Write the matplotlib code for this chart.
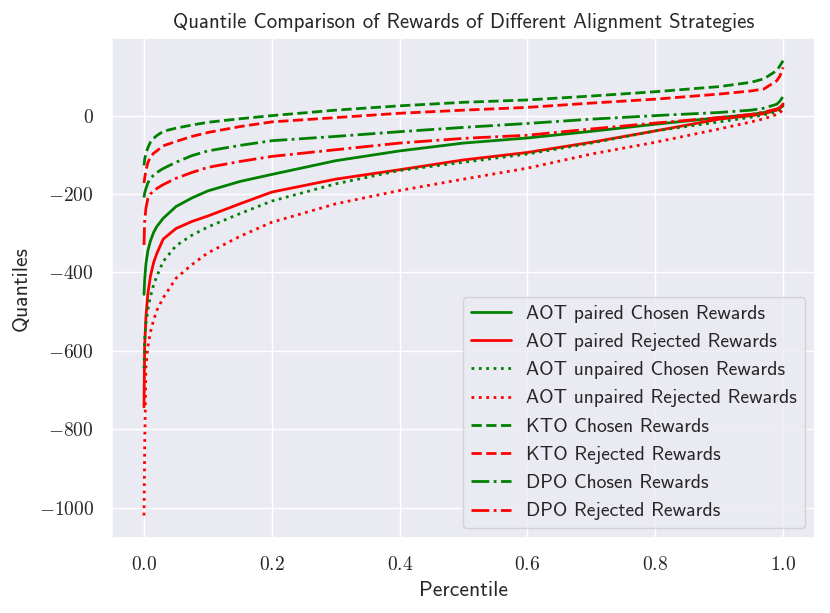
import matplotlib
matplotlib.use("Agg")
import matplotlib.pyplot as plt
import seaborn as sns
from matplotlib.ticker import FuncFormatter

# percentile grid shared by all curves
percentiles = [0, 0.001, 0.003, 0.006, 0.01, 0.015, 0.02, 0.03, 0.05, 0.075, 0.1,
               0.15, 0.2, 0.3, 0.4, 0.5, 0.6, 0.7, 0.8, 0.9, 0.95, 0.97, 0.99, 0.995, 1.0]

aot_paired_chosen = [-456, -420, -378, -345, -320, -298, -283, -262, -232, -210, -192,
                     -168, -150, -115, -90, -70, -57, -40, -22, -5, 3, 8, 15, 19, 25]
aot_paired_rejected = [-743, -590, -512, -455, -410, -375, -352, -315, -288, -270, -256,
                       -225, -195, -162, -138, -113, -94, -68, -39, -9, 0, 5, 14, 20, 30]
aot_unpaired_chosen = [-644, -570, -530, -495, -462, -432, -410, -372, -332, -305, -284,
                       -250, -218, -174, -140, -119, -98, -70, -39, -16, -4, 2, 10, 14, 20]
aot_unpaired_rejected = [-1020, -850, -640, -590, -552, -522, -497, -465, -415, -380, -350,
                         -308, -272, -225, -191, -162, -134, -98, -68, -34, -16, -8, 3, 8, 15]
kto_chosen = [-127, -112, -97, -82, -68, -58, -51, -40, -32, -24, -17,
              -8, 0, 14, 25, 34, 40, 50, 61, 74, 85, 94, 115, 127, 140]
kto_rejected = [-172, -160, -140, -120, -106, -96, -90, -77, -66, -53, -43,
                -28, -16, -5, 6, 14, 21, 32, 42, 55, 63, 68, 89, 101, 123]
dpo_chosen = [-209, -198, -186, -172, -160, -152, -145, -135, -119, -102, -90,
              -76, -64, -53, -41, -30, -20, -9, 0, 8, 14, 19, 29, 37, 49]
dpo_rejected = [-330, -270, -236, -212, -200, -192, -186, -176, -160, -145, -132,
                -117, -104, -87, -70, -58, -50, -34, -19, -5, 3, 9, 17, 21, 27]

series = [
    ("AOT paired Chosen Rewards", aot_paired_chosen, "green", "-"),
    ("AOT paired Rejected Rewards", aot_paired_rejected, "red", "-"),
    ("AOT unpaired Chosen Rewards", aot_unpaired_chosen, "green", ":"),
    ("AOT unpaired Rejected Rewards", aot_unpaired_rejected, "red", ":"),
    ("KTO Chosen Rewards", kto_chosen, "green", "--"),
    ("KTO Rejected Rewards", kto_rejected, "red", "--"),
    ("DPO Chosen Rewards", dpo_chosen, "green", "-."),
    ("DPO Rejected Rewards", dpo_rejected, "red", "-."),
]

sns.set_theme(style="darkgrid")
plt.rcParams["font.family"] = ["cmss10", "DejaVu Sans"]
plt.rcParams["mathtext.fontset"] = "cm"
plt.rcParams["axes.formatter.use_mathtext"] = True

fig = plt.figure(figsize=(8.3, 6.13), dpi=100)
ax = fig.add_axes([0.135, 0.122, 0.847, 0.816])

for label, vals, color, ls in series:
    ax.plot(percentiles, vals, color=color, linestyle=ls, linewidth=2.0, label=label)

ax.set_xticks([0.0, 0.2, 0.4, 0.6, 0.8, 1.0])
ax.set_yticks([-1000, -800, -600, -400, -200, 0])
ax.xaxis.set_major_formatter(FuncFormatter(lambda v, pos: r"$\mathrm{%.1f}$" % v))
ax.yaxis.set_major_formatter(FuncFormatter(lambda v, pos: r"$\mathrm{%d}$" % v))
ax.tick_params(labelsize=14, length=0, pad=13)

ax.set_xlabel("Percentile", fontsize=15.5, labelpad=5)
ax.set_ylabel("Quantiles", fontsize=15.5, labelpad=6)
ax.set_title("Quantile Comparison of Rewards of Different Alignment Strategies",
             fontsize=15, pad=7)
ax.legend(loc="lower right", fontsize=14.2, labelspacing=0.52)

fig.savefig("out.png", dpi=100)
